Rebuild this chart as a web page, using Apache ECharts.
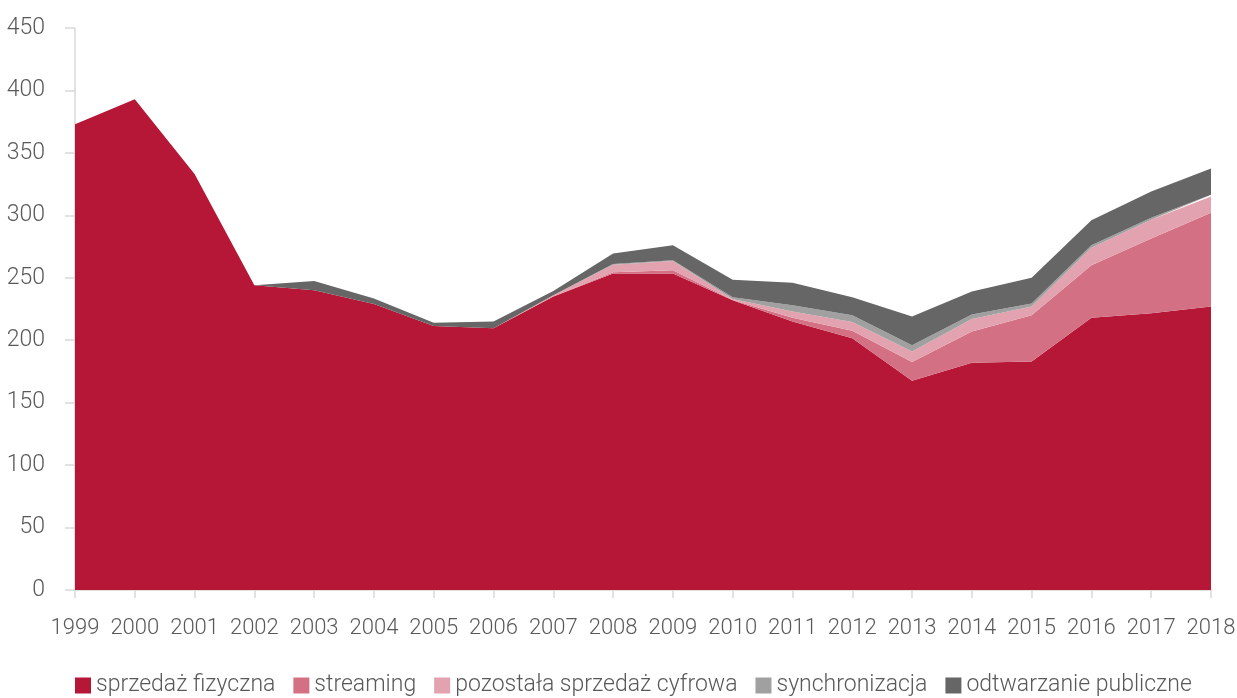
<!DOCTYPE html>
<html>
<head>
<meta charset="utf-8">
<script src="https://cdn.jsdelivr.net/npm/echarts@6/dist/echarts.min.js"></script>
<style>
  html, body { margin: 0; padding: 0; background: #fff; }
  #chart { width: 1237px; height: 698px; }
</style>
</head>
<body>
<div id="chart"></div>
<script>
// Lata
const years = ['1999','2000','2001','2002','2003','2004','2005','2006','2007','2008',
               '2009','2010','2011','2012','2013','2014','2015','2016','2017','2018'];

// Przychody wg źródła (mln)
const sprzedazFizyczna = [373, 393, 333, 244, 240, 229, 211.4, 209.5, 235, 253.5,
                          253.5, 232, 215, 201.5, 167.5, 182, 183, 218, 221.5, 227];
const streaming        = [0, 0, 0, 0, 0, 0, 0, 0, 0, 1,
                          2.5, 0.3, 3, 6, 15, 25, 37, 42, 60, 75];
const pozostalaCyfrowa = [0, 0, 0, 0, 0, 0, 0, 0, 1, 6,
                          7.5, 0.7, 5, 7, 8.5, 10, 7, 14, 15, 13];
const synchronizacja   = [0, 0, 0, 0, 0, 0, 0, 0, 0, 0.5,
                          0.5, 1.5, 5, 5.5, 5, 3.5, 2.5, 2, 1.5, 1.5];
const odtwarzanie      = [0, 0, 0, 0, 7.5, 4.5, 2.6, 5.5, 3.5, 8.5,
                          12, 14, 18, 14.5, 23, 18.5, 20.5, 20, 21, 21];

const yTicks = { min: 0, max: 450, interval: 50 };

const FONT = 'Roboto, "Noto Sans", sans-serif';
const TEXT = '#595959';
const AXIS = '#d9d9d9';

function areaSeries(name, data, color) {
  return {
    name: name,
    type: 'line',
    stack: 'total',
    data: data,
    symbol: 'none',
    lineStyle: { width: 0 },
    areaStyle: { color: color, opacity: 1 },
    itemStyle: { color: color },
    emphasis: { disabled: true },
    animation: false
  };
}

const chart = echarts.init(document.getElementById('chart'));
chart.setOption({
  backgroundColor: '#ffffff',
  animation: false,
  grid: { left: 75, right: 26, top: 28, bottom: 108, containLabel: false, outerBoundsMode: 'none' },
  legend: {
    left: 75,
    top: 674,
    padding: 0,
    icon: 'rect',
    itemWidth: 16,
    itemHeight: 16,
    itemGap: 18,
    textStyle: { fontFamily: FONT, fontSize: 23, fontWeight: 300, color: TEXT },
    data: ['sprzedaż fizyczna', 'streaming', 'pozostała sprzedaż cyfrowa',
           'synchronizacja', 'odtwarzanie publiczne']
  },
  xAxis: {
    type: 'category',
    data: years,
    boundaryGap: false,
    axisLine: { show: true, lineStyle: { color: AXIS, width: 1.5 } },
    axisTick: { show: true, length: 8, alignWithLabel: true, lineStyle: { color: AXIS, width: 1.5 } },
    axisLabel: { fontFamily: FONT, fontSize: 22, fontWeight: 300, color: TEXT, margin: 27, interval: 0 },
    splitLine: { show: false }
  },
  yAxis: {
    type: 'value',
    min: yTicks.min,
    max: yTicks.max,
    interval: yTicks.interval,
    axisLine: { show: true, lineStyle: { color: AXIS, width: 1.5 } },
    axisTick: { show: true, length: 10, lineStyle: { color: AXIS, width: 1.5 } },
    axisLabel: { fontFamily: FONT, fontSize: 23, fontWeight: 300, color: TEXT, margin: 30 },
    splitLine: { show: false }
  },
  series: [
    areaSeries('sprzedaż fizyczna', sprzedazFizyczna, '#b71737'),
    areaSeries('streaming', streaming, '#d37083'),
    areaSeries('pozostała sprzedaż cyfrowa', pozostalaCyfrowa, '#e3a2af'),
    areaSeries('synchronizacja', synchronizacja, '#a0a0a0'),
    areaSeries('odtwarzanie publiczne', odtwarzanie, '#666666')
  ]
});
</script>
</body>
</html>
